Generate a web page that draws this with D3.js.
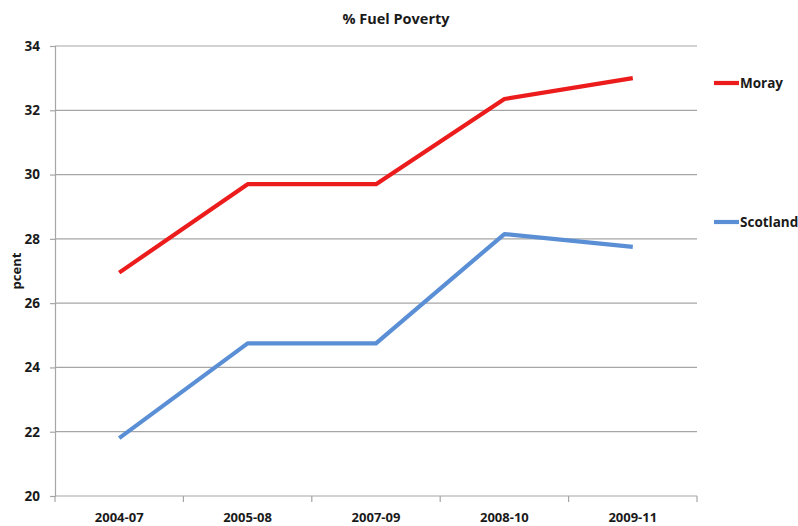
<!DOCTYPE html>
<html>
<head>
<meta charset="utf-8">
<title>% Fuel Poverty</title>
<script src="https://d3js.org/d3.v7.min.js"></script>
<style>
    body { margin: 0; background: #fff; }
    text { font-family: 'Open Sans', 'Liberation Sans', sans-serif; font-weight: 700; fill: #1a1a1a; }
    .grid line { stroke: #a6a6a6; stroke-width: 1.2; }
    .axis path, .axis line { stroke: #a6a6a6; stroke-width: 1.2; }
</style>
</head>
<body>
<script>
    var width = 798, height = 526;

    // data
    var periods = ["2004-07", "2005-08", "2007-09", "2008-10", "2009-11"];
    var moray = [26.95, 29.7, 29.7, 32.35, 33.0];
    var scotland = [21.8, 24.75, 24.75, 28.15, 27.75];
    var yTicks = [20, 22, 24, 26, 28, 30, 32, 34];

    var series = [
        {name: "Moray", values: moray, color: "#ec1c1c", ly: 83},
        {name: "Scotland", values: scotland, color: "#5b8fd5", ly: 222}
    ];

    var margin = {left: 55, right: 101, top: 46, bottom: 30};

    var svg = d3.select("body").append("svg")
        .attr("width", width)
        .attr("height", height);

    var x = d3.scaleBand().domain(periods)
        .range([margin.left, width - margin.right]);
    var y = d3.scaleLinear().domain([20, 34])
        .range([height - margin.bottom, margin.top]);

    // gridlines
    svg.append("g").attr("class", "grid")
        .selectAll("line").data(yTicks.slice(1)).enter()
        .append("line")
        .attr("x1", margin.left).attr("x2", width - margin.right)
        .attr("y1", function(d) { return y(d); })
        .attr("y2", function(d) { return y(d); });

    // y axis
    var yAxis = svg.append("g").attr("class", "axis")
        .attr("transform", "translate(" + margin.left + ",0)")
        .call(d3.axisLeft(y).tickValues(yTicks).tickSize(5).tickPadding(10).tickFormat(d3.format("d")));
    yAxis.selectAll("text").style("font-size", "13.5px");

    // x axis, ticks between categories
    var xg = svg.append("g").attr("class", "axis")
        .attr("transform", "translate(0," + y(20) + ")");
    xg.append("line")
        .attr("x1", margin.left).attr("x2", width - margin.right);
    var bounds = periods.map(function(p) { return x(p); }).concat([x.range()[1]]);
    xg.selectAll(".tk").data(bounds).enter().append("line")
        .attr("x1", function(d) { return d; }).attr("x2", function(d) { return d; })
        .attr("y1", 0).attr("y2", 6);
    xg.selectAll(".lbl").data(periods).enter().append("text")
        .attr("x", function(d) { return x(d) + x.bandwidth() / 2; })
        .attr("y", 26)
        .attr("text-anchor", "middle")
        .style("font-size", "13px")
        .text(function(d) { return d; });

    // lines
    var line = d3.line()
        .x(function(d, i) { return x(periods[i]) + x.bandwidth() / 2; })
        .y(function(d) { return y(d); });

    svg.selectAll(".series").data(series).enter().append("path")
        .attr("d", function(d) { return line(d.values); })
        .attr("fill", "none")
        .attr("stroke", function(d) { return d.color; })
        .attr("stroke-width", 4.2)
        .attr("stroke-linejoin", "round");

    // legend
    var lg = svg.selectAll(".leg").data(series).enter().append("g");
    lg.append("line")
        .attr("x1", 714).attr("x2", 739)
        .attr("y1", function(d) { return d.ly; }).attr("y2", function(d) { return d.ly; })
        .attr("stroke", function(d) { return d.color; })
        .attr("stroke-width", 4.2);
    lg.append("text")
        .attr("x", 740).attr("y", function(d) { return d.ly + 5; })
        .style("font-size", "13.5px")
        .text(function(d) { return d.name; });

    // title
    svg.append("text")
        .attr("x", 396).attr("y", 24)
        .attr("text-anchor", "middle")
        .style("font-size", "14.5px")
        .text("% Fuel Poverty");

    // y label
    svg.append("text")
        .attr("transform", "translate(21,271) rotate(-90)")
        .attr("text-anchor", "middle")
        .style("font-size", "13px")
        .text("pcent");
</script>
</body>
</html>
